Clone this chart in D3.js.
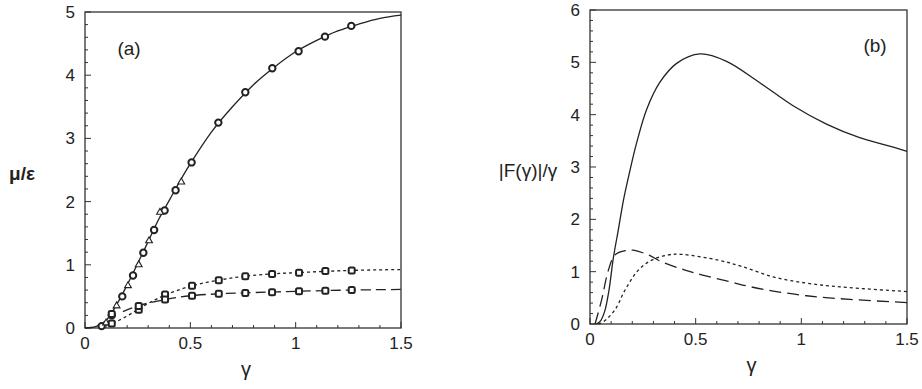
<!DOCTYPE html>
<html>
<head>
<meta charset="utf-8">
<script src="https://cdn.jsdelivr.net/npm/d3@7"></script>
<style>
  body { margin: 0; background: #fff; }
  svg { display: block; }
  .tick-label { font-family: "Liberation Sans", Arial, sans-serif; font-size: 17px; fill: #222; }
  .axis-title { font-family: "Liberation Sans", Arial, sans-serif; fill: #222; }
  .panel-tag { font-family: "Liberation Sans", Arial, sans-serif; font-size: 19px; fill: #222; }
</style>
</head>
<body>
<div id="chart"></div>
<script>
// ---- panel (a) data ----
const aSolidX = [0, 0.05, 0.1, 0.15, 0.2, 0.25, 0.3, 0.35, 0.4, 0.45, 0.5, 0.6, 0.7, 0.8, 0.9, 1.0, 1.1, 1.2, 1.3, 1.4, 1.5];
const aSolidY = [0, 0.02, 0.12, 0.37, 0.68, 1.02, 1.37, 1.72, 2.02, 2.32, 2.6, 3.1, 3.5, 3.85, 4.13, 4.37, 4.55, 4.7, 4.81, 4.9, 4.95];
const aShortX = [0.08, 0.13, 0.2, 0.25, 0.3, 0.38, 0.5, 0.63, 0.75, 0.88, 1.0, 1.25, 1.5];
const aShortY = [0.0, 0.07, 0.19, 0.29, 0.39, 0.52, 0.66, 0.755, 0.815, 0.855, 0.875, 0.91, 0.925];
const aLongX = [0.18, 0.25, 0.38, 0.5, 0.63, 0.75, 1.0, 1.25, 1.5];
const aLongY = [0.26, 0.35, 0.45, 0.51, 0.54, 0.555, 0.58, 0.6, 0.61];
const aCircleX = [0.079, 0.127, 0.177, 0.228, 0.277, 0.328, 0.378, 0.43, 0.506, 0.633, 0.761, 0.889, 1.014, 1.139, 1.264];
const aCircleY = [0.03, 0.2, 0.5, 0.83, 1.19, 1.55, 1.86, 2.18, 2.62, 3.25, 3.73, 4.11, 4.38, 4.61, 4.78];
const aTriX = [0.1, 0.15, 0.204, 0.255, 0.304, 0.356, 0.457];
const aTriY = [0.08, 0.35, 0.67, 1.0, 1.38, 1.83, 2.31];
const aSqUpX = [0.127, 0.255, 0.38, 0.508, 0.635, 0.761, 0.888, 1.016, 1.141, 1.266];
const aSqUpY = [0.07, 0.29, 0.53, 0.67, 0.755, 0.82, 0.855, 0.876, 0.9, 0.91];
const aSqLoX = [0.127, 0.255, 0.38, 0.508, 0.635, 0.761, 0.888, 1.016, 1.141, 1.266];
const aSqLoY = [0.22, 0.35, 0.45, 0.51, 0.54, 0.555, 0.565, 0.58, 0.59, 0.6];

// ---- panel (b) data ----
const bSolidX = [0.03, 0.05, 0.07, 0.09, 0.11, 0.134, 0.16, 0.19, 0.22, 0.268, 0.331, 0.41, 0.52, 0.646, 0.8, 0.961, 1.119, 1.276, 1.4, 1.5];
const bSolidY = [0, 0.06, 0.25, 0.65, 1.25, 1.8, 2.4, 2.95, 3.45, 4.1, 4.62, 4.98, 5.16, 5.02, 4.62, 4.17, 3.82, 3.56, 3.42, 3.3];
const bLongX = [0.024, 0.055, 0.087, 0.118, 0.166, 0.205, 0.276, 0.339, 0.45, 0.528, 0.67, 0.75, 0.867, 1.025, 1.23, 1.5];
const bLongY = [0, 0.46, 1.03, 1.32, 1.4, 1.41, 1.32, 1.19, 1.03, 0.94, 0.8, 0.72, 0.63, 0.54, 0.47, 0.41];
const bShortX = [0.04, 0.063, 0.118, 0.166, 0.229, 0.292, 0.37, 0.434, 0.607, 0.718, 0.867, 1.025, 1.183, 1.5];
const bShortY = [0, 0.04, 0.27, 0.65, 1.03, 1.22, 1.32, 1.33, 1.22, 1.1, 0.9, 0.78, 0.71, 0.62];

const xTicks = [0, 0.5, 1, 1.5];
const aYTicks = [0, 1, 2, 3, 4, 5];
const bYTicks = [0, 1, 2, 3, 4, 5, 6];

const W = 922, H = 389;
const svg = d3.select("#chart").append("svg")
    .attr("width", W)
    .attr("height", H);

const zip = (xs, ys) => xs.map((x, i) => [x, ys[i]]);

function drawPanel(p) {
    const x = d3.scaleLinear().domain([0, 1.5]).range([p.left, p.right]);
    const y = d3.scaleLinear().domain([0, p.ymax]).range([p.bottom, p.top]);
    const g = svg.append("g");

    // frame
    g.append("rect")
        .attr("x", p.left).attr("y", p.top)
        .attr("width", p.right - p.left).attr("height", p.bottom - p.top)
        .attr("fill", "none").attr("stroke", "#333").attr("stroke-width", 1.3);

    // x ticks, inward
    const xMinor = d3.range(0, 1.5001, 0.1);
    g.selectAll(".xt").data(xMinor).enter().append("line")
        .attr("x1", d => x(d)).attr("x2", d => x(d))
        .attr("y1", p.bottom)
        .attr("y2", d => p.bottom - (Math.abs(d * 2 - Math.round(d * 2)) < 1e-6 ? 6 : 3))
        .attr("stroke", "#333").attr("stroke-width", 1);
    g.selectAll(".xl").data(xTicks).enter().append("text")
        .attr("class", "tick-label")
        .attr("x", d => x(d)).attr("y", p.bottom + 21)
        .attr("text-anchor", "middle")
        .text(d => d);

    // y ticks, inward
    const yMinor = d3.range(0, p.ymax + 0.001, 0.2);
    g.selectAll(".yt").data(yMinor).enter().append("line")
        .attr("x1", p.left)
        .attr("x2", d => p.left + (Math.abs(d - Math.round(d)) < 1e-6 ? 6 : 3))
        .attr("y1", d => y(d)).attr("y2", d => y(d))
        .attr("stroke", "#333").attr("stroke-width", 1);
    g.selectAll(".yl").data(p.yTicks).enter().append("text")
        .attr("class", "tick-label")
        .attr("x", p.left - 10).attr("y", d => y(d) + 6)
        .attr("text-anchor", "end")
        .text(d => d);

    // titles
    g.append("text").attr("class", "axis-title")
        .attr("x", (p.left + p.right) / 2 + 3).attr("y", p.bottom + 48)
        .attr("text-anchor", "middle").attr("font-size", 20)
        .text("γ");
    g.append("text").attr("class", "axis-title")
        .attr("x", p.ylabX).attr("y", p.ylabY)
        .attr("text-anchor", "middle").attr("font-size", p.ylabSize)
        .attr("font-weight", p.ylabWeight)
        .text(p.ylabel);
    g.append("text").attr("class", "panel-tag")
        .attr("x", p.tagX).attr("y", p.tagY)
        .attr("text-anchor", "middle")
        .text(p.tag);

    const line = d3.line().x(d => x(d[0])).y(d => y(d[1])).curve(d3.curveCatmullRom.alpha(0.5));
    p.lines.forEach(l => {
        g.append("path")
            .datum(zip(l.xs, l.ys))
            .attr("d", line)
            .attr("fill", "none")
            .attr("stroke", "#222")
            .attr("stroke-width", 1.3)
            .attr("stroke-dasharray", l.dash);
    });
    return { g, x, y };
}

// panel (a)
const pa = drawPanel({
    left: 85, right: 401, top: 12, bottom: 328, ymax: 5, yTicks: aYTicks,
    ylabel: "μ/ε", ylabX: 22, ylabY: 180, ylabSize: 19, ylabWeight: "bold",
    tag: "(a)", tagX: 129, tagY: 55,
    lines: [
        { xs: aSolidX, ys: aSolidY, dash: null },
        { xs: aShortX, ys: aShortY, dash: "3,3" },
        { xs: aLongX, ys: aLongY, dash: "10,5" }
    ]
});

// markers on panel (a)
pa.g.selectAll(".circ").data(zip(aCircleX, aCircleY)).enter().append("circle")
    .attr("cx", d => pa.x(d[0])).attr("cy", d => pa.y(d[1]))
    .attr("r", 3.2).attr("fill", "#fff").attr("stroke", "#222").attr("stroke-width", 2);

pa.g.selectAll(".tri").data(zip(aTriX, aTriY)).enter().append("path")
    .attr("d", d3.symbol().type(d3.symbolTriangle).size(20))
    .attr("transform", d => `translate(${pa.x(d[0])},${pa.y(d[1])})`)
    .attr("fill", "#fff").attr("stroke", "#222").attr("stroke-width", 1.1);

pa.g.selectAll(".sq").data(zip(aSqUpX, aSqUpY).concat(zip(aSqLoX, aSqLoY))).enter().append("rect")
    .attr("x", d => pa.x(d[0]) - 3).attr("y", d => pa.y(d[1]) - 3)
    .attr("width", 6).attr("height", 6).attr("rx", 1.5)
    .attr("fill", "#fff").attr("stroke", "#222").attr("stroke-width", 2);

// panel (b)
drawPanel({
    left: 590, right: 907, top: 10, bottom: 324, ymax: 6, yTicks: bYTicks,
    ylabel: "|F(γ)|/γ", ylabX: 528, ylabY: 177, ylabSize: 19, ylabWeight: "normal",
    tag: "(b)", tagX: 875, tagY: 52,
    lines: [
        { xs: bSolidX, ys: bSolidY, dash: null },
        { xs: bShortX, ys: bShortY, dash: "3,3" },
        { xs: bLongX, ys: bLongY, dash: "12,6" }
    ]
});
</script>
</body>
</html>
